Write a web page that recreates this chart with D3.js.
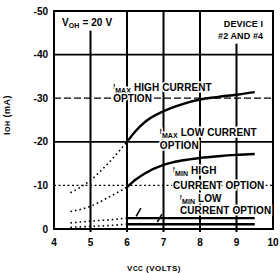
<!DOCTYPE html>
<html><head><meta charset="utf-8">
<script src="https://cdn.jsdelivr.net/npm/d3@7"></script>
<style>
html,body{margin:0;padding:0;background:#fff;}
svg{display:block;}
text{font-family:"Liberation Sans","Arial",sans-serif;font-weight:bold;fill:#000;}
</style></head><body>
<script>
// ---- data ----
const xTicks = [4,5,6,7,8,9,10];
const yTicks = [-50,-40,-30,-20,-10,0];
const xGrid = [5,6,7,8,9];
const yGrid = [-40,-30,-20,-10];

const vcc = [6,6.25,6.5,7,7.5,8,8.5,9,9.5];
const imaxHigh = [-20,-22.6,-24.6,-27,-28.6,-29.7,-30.3,-30.8,-31.4];
const imaxLow  = [-9.6,-11.4,-12.8,-14.7,-15.7,-16.3,-16.7,-17,-17.2];
const iminHigh = [-2.5,-2.5,-2.5,-2.5,-2.5,-2.5,-2.5,-2.5,-2.5];
const iminLow  = [-1.1,-1.1,-1.1,-1.1,-1.1,-1.1,-1.1,-1.1,-1.1];

const vccDot = [4.45,5,5.5,6];
const imaxHighDot = [-8.3,-11.2,-15.2,-20];
const imaxLowDot  = [-4,-5.2,-7.3,-9.6];
const iminHighDot = [-1.4,-1.8,-2.1,-2.5];
const iminLowDot  = [-0.4,-0.6,-0.8,-1.1];

// ---- layout ----
const W=280,H=273;
const x = d3.scaleLinear().domain([4,10]).range([54,273]);
const y = d3.scaleLinear().domain([0,-50]).range([229,11]);

const svg = d3.select("body").append("svg").attr("width",W).attr("height",H);

// grid
const vExt = {5:[-45.5,0],6:[-50,0],7:[-50,0],8:[-50,0],9:[-42.5,0]};
svg.append("g").selectAll("line").data(xGrid).join("line")
  .attr("x1",d=>x(d)).attr("x2",d=>x(d))
  .attr("y1",d=>y(vExt[d][0])).attr("y2",d=>y(vExt[d][1])+3)
  .attr("stroke","#000").attr("stroke-width",2);
const hStyle = {"-40":null,"-30":"7,3","-20":null,"-10":"2,2.5"};
const hW = {"-40":1.6,"-30":1.2,"-20":1.8,"-10":1.2};
svg.append("g").selectAll("line").data(yGrid).join("line")
  .attr("x1",x(4)).attr("x2",x(10))
  .attr("y1",d=>y(d)).attr("y2",d=>y(d))
  .attr("stroke","#000").attr("stroke-width",d=>hW[d])
  .attr("stroke-dasharray",d=>hStyle[d]);

// frame
svg.append("rect").attr("x",x(4)).attr("y",y(-50))
  .attr("width",x(10)-x(4)).attr("height",y(0)-y(-50))
  .attr("fill","none").attr("stroke","#000").attr("stroke-width",2);

// curves
const line = d3.line().x(d=>x(d[0])).y(d=>y(d[1])).curve(d3.curveMonotoneX);
[imaxHigh,imaxLow,iminHigh,iminLow].forEach(s=>{
  svg.append("path").attr("d",line(vcc.map((v,i)=>[v,s[i]])))
    .attr("fill","none").attr("stroke","#000").attr("stroke-width",2.4);
});
[imaxHighDot,imaxLowDot,iminHighDot,iminLowDot].forEach(s=>{
  svg.append("path").attr("d",line(vccDot.map((v,i)=>[v,s[i]])))
    .attr("fill","none").attr("stroke","#000").attr("stroke-width",1.6)
    .attr("stroke-dasharray","1.6,3");
});

// pointers
const pointers = [[[6.38,-4.8],[6.25,-2.9]],[[6.96,-3.4],[6.83,-1.6]]];
pointers.forEach(p=>{
  svg.append("line").attr("x1",x(p[0][0])).attr("y1",y(p[0][1]))
    .attr("x2",x(p[1][0])).attr("y2",y(p[1][1]))
    .attr("stroke","#000").attr("stroke-width",1.6);
});

// labels with white halo
function lab(xv,yv,parts,anchor,fs){
  fs = fs||10;
  const t = svg.append("text").attr("x",x(xv)).attr("y",y(yv))
    .attr("font-size",fs).attr("letter-spacing",0.1)
    .attr("text-anchor",anchor||"start")
    .attr("stroke","#fff").attr("stroke-width",3).attr("paint-order","stroke");
  parts.forEach(p=>{
    t.append("tspan").text(p[0]).attr("font-size",p[1]||fs)
      .attr("dy",p[2]||0);
  });
  return t;
}
lab(5.62,-31.65,[["I",7,-2],["MAX",7,4],[" HIGH CURRENT",10,-2]]);
lab(5.62,-29.1,[["OPTION"]]);
lab(6.9,-21.3,[["I",7,-2],["MAX",7,4],[" LOW CURRENT",10,-2]]);
lab(6.9,-18.35,[["OPTION"]]);
lab(7.26,-12.6,[["I",7,-2],["MIN",7,4],[" HIGH",10,-2]]);
lab(7.26,-9.2,[["CURRENT OPTION"]]);
lab(7.45,-6.2,[["I",7,-2],["MIN",7,4],[" LOW",10,-2]]);
lab(7.45,-3.45,[["CURRENT OPTION"]]);
lab(4.22,-46.6,[["V",10],["OH",7,2],[" = 20 V",10,-2]]);
lab(9.73,-46.3,[["DEVICE I"]],"end",9);
lab(9.73,-43.6,[["#2 AND #4"]],"end",9);

// axes tick labels
svg.append("g").selectAll("text").data(yTicks).join("text")
  .attr("x",48).attr("y",d=>y(d)+3.5).attr("text-anchor","end")
  .attr("font-size",10).text(d=>String(d));
svg.append("g").selectAll("text").data(xTicks).join("text")
  .attr("x",d=>x(d)).attr("y",246).attr("text-anchor","middle")
  .attr("font-size",10).text(d=>d);

// axis titles
const xt = svg.append("text").attr("x",154).attr("y",271).attr("text-anchor","middle").attr("font-size",8).attr("letter-spacing",0.5);
xt.append("tspan").text("V");
xt.append("tspan").text("CC").attr("font-size",6.5);
xt.append("tspan").text(" (VOLTS)");
const yt = svg.append("text").attr("transform","translate(10,115) rotate(-90)").attr("text-anchor","middle").attr("font-size",9).attr("letter-spacing",0.5);
yt.append("tspan").text("I");
yt.append("tspan").text("OH").attr("font-size",7);
yt.append("tspan").text(" (mA)");
</script>
</body></html>
